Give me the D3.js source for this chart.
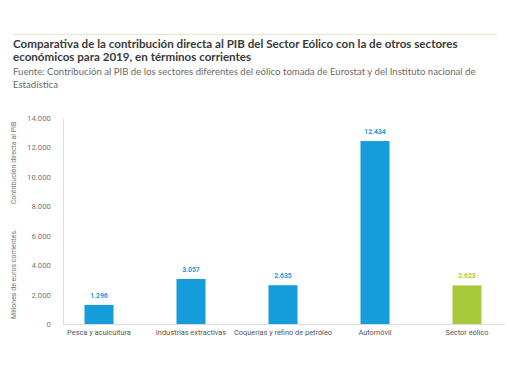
<!DOCTYPE html>
<html><head><meta charset="utf-8">
<script src="https://cdn.jsdelivr.net/npm/d3@7/dist/d3.min.js"></script>
<style>body{margin:0;background:#fff}svg{display:block}</style>
</head><body>
<svg id="c" width="510" height="382"></svg>
<script>
const categories = ["Pesca y acuicultura","Industrias extractivas","Coquerías  y refino de petróleo","Automóvil","Sector eólico"];
const values = [1296, 3057, 2635, 12434, 2623];
const valueLabels = ["1.296","3.057","2.635","12.434","2.623"];
const yTicks = [0,2000,4000,6000,8000,10000,12000,14000];
const highlight = ["Sector eólico"];
const titleLines = ["Comparativa de la contribución directa al PIB del Sector Eólico con la de otros sectores","económicos para 2019, en términos corrientes"];
const subtitleLines = ["Fuente: Contribución al PIB de los sectores diferentes del eólico tomada de Eurostat y del Instituto nacional de","Estadística"];

const svg = d3.select("#c");
const blue = "#159cda", green = "#a9c93d";

svg.append("line").attr("x1",13).attr("x2",497).attr("y1",34.5).attr("y2",34.5)
  .attr("stroke","#e3e8cf").attr("stroke-width",1);

svg.append("g").selectAll("text").data(titleLines).join("text")
  .attr("x",13).attr("y",(d,i)=>47.5+i*13.5)
  .attr("font-family","Lato, sans-serif").attr("font-weight","bold")
  .attr("font-size",11.6).attr("fill","#3a3a3a").text(d=>d);
svg.append("g").selectAll("text").data(subtitleLines).join("text")
  .attr("x",13).attr("y",(d,i)=>75+i*13)
  .attr("font-family","Lato, sans-serif").attr("font-size",9.6).attr("fill","#6a6a6a").text(d=>d);

const y = d3.scaleLinear().domain([0,14000]).range([324,118]);
const x = d3.scaleBand().domain(categories).range([53,513]);
const bw = 29;

const fmt = d => d3.format(",")(d).replace(/,/g,".");
const yAxis = svg.append("g").attr("transform","translate(63,0)")
  .call(d3.axisLeft(y).tickValues(yTicks).tickFormat(fmt).tickSize(0).tickPadding(12));
yAxis.select(".domain").attr("stroke","#dcdcdc");
yAxis.selectAll("text").attr("font-family","Roboto, sans-serif").attr("font-size",7.8).attr("fill","#777");

const xAxis = svg.append("g").attr("transform","translate(0,324)")
  .call(d3.axisBottom(x).tickSize(0).tickPadding(6));
xAxis.select(".domain").attr("d","M63,0.5H505").attr("stroke","#dcdcdc");
xAxis.selectAll("text").attr("font-family","Roboto, sans-serif").attr("font-size",7.4).attr("fill","#555");

svg.append("g").selectAll("rect").data(categories).join("rect")
  .attr("x",(d)=>x(d)+x.bandwidth()/2-bw/2).attr("width",bw)
  .attr("y",(d,i)=>y(values[i])).attr("height",(d,i)=>y(0)-y(values[i]))
  .attr("fill",d=>highlight.includes(d)?green:blue);

svg.append("g").selectAll("text").data(categories).join("text")
  .attr("x",d=>x(d)+x.bandwidth()/2).attr("y",(d,i)=>y(values[i])-7)
  .attr("text-anchor","middle").attr("font-family","Roboto, sans-serif").attr("font-weight","bold")
  .attr("font-size",6.8).attr("fill",d=>highlight.includes(d)?green:blue)
  .text((d,i)=>valueLabels[i]);

svg.append("text").attr("transform","translate(16,163) rotate(-90)").attr("text-anchor","middle")
  .attr("font-family","Roboto, sans-serif").attr("font-size",7).attr("fill","#777").text("Contribución directa al PIB");
svg.append("text").attr("transform","translate(16,274) rotate(-90)").attr("text-anchor","middle")
  .attr("font-family","Roboto, sans-serif").attr("font-size",7).attr("fill","#777").text("Millones de euros corrientes.");
</script>
</body></html>
